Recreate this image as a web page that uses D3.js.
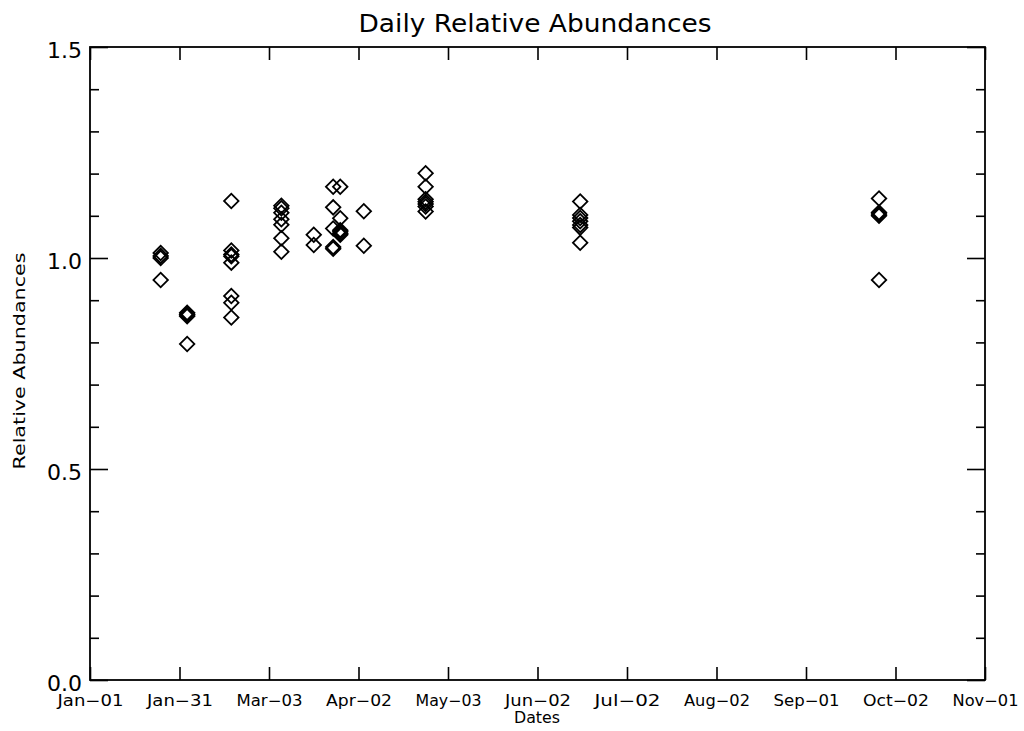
<!DOCTYPE html>
<html><head><meta charset="utf-8">
<script src="https://cdn.jsdelivr.net/npm/d3@7"></script>
<style>
body{margin:0;background:#fff}
svg{display:block}
text{font-family:"DejaVu Sans","Liberation Sans",Arial,sans-serif;fill:#000}
</style>
</head><body>
<svg id="chart" width="1024" height="731"></svg>
<script>
// ---- data ----
const xTickLabels = ["Jan\u221201","Jan\u221231","Mar\u221203","Apr\u221202","May\u221203","Jun\u221202","Jul\u221202","Aug\u221202","Sep\u221201","Oct\u221202","Nov\u221201"];
const xTickDays = [0, 30.4, 60.8, 91.2, 121.6, 152, 182.4, 212.8, 243.2, 273.6, 304];
const yMajorTicks = [0.0, 0.5, 1.0, 1.5];
const yMinorTicks = [0.1,0.2,0.3,0.4,0.6,0.7,0.8,0.9,1.1,1.2,1.3,1.4];
// day of year (0 = Jan-01) for each measurement
const pointDays = [
  24,24,24,24,
  33,33,33,33,33,
  48,48,48,48,48,48,48,48,
  65,65,65,65,65,65,65,
  76,76,
  82.6,82.6,82.6,82.6,82.6,
  85,85,85,85,85,85,
  93,93,
  114,114,114,114,114,114,114,
  166.5,166.5,166.5,166.5,166.5,166.5,166.5,
  268,268,268,268,268
];
const pointValues = [
  1.012,1.005,1.000,0.948,
  0.870,0.867,0.865,0.862,0.796,
  1.135,1.018,1.008,1.004,0.989,0.910,0.894,0.859,
  1.124,1.118,1.107,1.092,1.079,1.047,1.015,
  1.055,1.031,
  1.169,1.120,1.070,1.026,1.022,
  1.169,1.094,1.066,1.062,1.058,1.055,
  1.111,1.029,
  1.201,1.169,1.139,1.133,1.128,1.122,1.110,
  1.134,1.102,1.095,1.087,1.078,1.072,1.036,
  1.141,1.108,1.104,1.100,0.948
];

// ---- layout ----
const L = 90, R = 985, T = 47, B = 680;
const svg = d3.select("#chart");
const x = d3.scaleLinear().domain([0, 304]).range([L, R]);
const y = d3.scaleLinear().domain([0, 1.5]).range([B, T]);
const FONT = '"DejaVu Sans","Liberation Sans",Arial,sans-serif';

// frame
svg.append("rect").attr("x", L).attr("y", T).attr("width", R - L).attr("height", B - T)
  .attr("fill", "none").attr("stroke", "#000").attr("stroke-width", 1.8);

// x axes (bottom labels, top mirror ticks)
svg.append("g").attr("transform", `translate(0,${B})`)
  .call(d3.axisTop(x).tickValues(xTickDays).tickSize(13).tickFormat(""));
svg.append("g").attr("transform", `translate(0,${T})`)
  .call(d3.axisBottom(x).tickValues(xTickDays).tickSize(13).tickFormat(""));
const xl = svg.append("g").attr("transform", `translate(0,${B})`)
  .call(d3.axisBottom(x).tickValues(xTickDays).tickSize(0).tickPadding(0)
    .tickFormat((d, i) => xTickLabels[i]));
xl.selectAll("text").attr("font-size", 15).attr("font-family", FONT)
  .attr("dy", null).attr("y", 26)
  .attr("textLength", 66).attr("lengthAdjust", "spacingAndGlyphs");

// y axes
svg.append("g").attr("transform", `translate(${L},0)`)
  .call(d3.axisRight(y).tickValues(yMajorTicks).tickSize(18).tickFormat(""));
svg.append("g").attr("transform", `translate(${L},0)`)
  .call(d3.axisRight(y).tickValues(yMinorTicks).tickSize(9).tickFormat(""));
svg.append("g").attr("transform", `translate(${R},0)`)
  .call(d3.axisLeft(y).tickValues(yMajorTicks).tickSize(18).tickFormat(""));
svg.append("g").attr("transform", `translate(${R},0)`)
  .call(d3.axisLeft(y).tickValues(yMinorTicks).tickSize(9).tickFormat(""));
const ylab = svg.append("g").attr("transform", `translate(${L},0)`)
  .call(d3.axisLeft(y).tickValues(yMajorTicks).tickSize(0).tickPadding(8)
    .tickFormat(d3.format(".1f")));
ylab.selectAll("text").attr("font-size", 21).attr("font-family", FONT)
  .attr("dy", null).attr("y", 10)
  .attr("textLength", 35).attr("lengthAdjust", "spacingAndGlyphs");

svg.selectAll(".domain").remove();
svg.selectAll(".tick line").attr("stroke", "#000").attr("stroke-width", 1.6);

// titles
svg.append("text").attr("x", 535).attr("y", 32).attr("text-anchor", "middle")
  .attr("font-size", 24).attr("textLength", 353).attr("lengthAdjust", "spacingAndGlyphs")
  .text("Daily Relative Abundances");
svg.append("text").attr("x", 537).attr("y", 723).attr("text-anchor", "middle")
  .attr("font-size", 15).attr("textLength", 46).attr("lengthAdjust", "spacingAndGlyphs")
  .text("Dates");
svg.append("text").attr("transform", `translate(25,361) rotate(-90)`)
  .attr("text-anchor", "middle").attr("font-size", 16.5)
  .attr("textLength", 217).attr("lengthAdjust", "spacingAndGlyphs")
  .text("Relative Abundances");

// points
const sym = d3.symbol().type(d3.symbolSquare).size(105);
svg.append("g").selectAll("path").data(pointValues).join("path")
  .attr("d", sym)
  .attr("transform", (d, i) => `translate(${x(pointDays[i])},${y(d)}) rotate(45)`)
  .attr("fill", "none").attr("stroke", "#000").attr("stroke-width", 1.8);
</script>
</body></html>
